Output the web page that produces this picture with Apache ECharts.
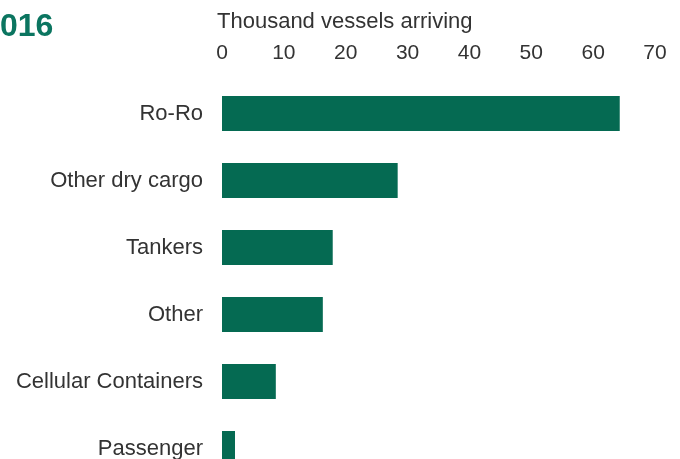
<!DOCTYPE html>
<html>
<head>
<meta charset="utf-8">
<script src="https://cdn.jsdelivr.net/npm/echarts@6/dist/echarts.min.js"></script>
<style>
  html, body { margin: 0; padding: 0; background: #fff; }
  #chart { width: 680px; height: 459px; }
</style>
</head>
<body>
<div id="chart"></div>
<script>
// 船舶类型及到港数量（千艘）
const categories = ["Ro-Ro", "Other dry cargo", "Tankers", "Other", "Cellular Containers", "Passenger"];
const vessels = [64.3, 28.4, 17.9, 16.3, 8.7, 2.1];
const yearLabel = "016";
const axisName = "Thousand vessels arriving";

const font = "'Liberation Sans', Arial, sans-serif";
const chart = echarts.init(document.getElementById("chart"), null, { renderer: "canvas" });

chart.setOption({
  animation: false,
  title: [
    {
      text: yearLabel,
      left: -5,
      top: 6,
      textStyle: { color: "#0b7560", fontSize: 32, fontWeight: "bold", fontFamily: font }
    },
    {
      text: axisName,
      left: 212,
      top: 6,
      textStyle: { color: "#333", fontSize: 22, fontWeight: "normal", fontFamily: font }
    }
  ],
  grid: {
    left: 222,
    right: 25,
    top: 80,
    height: 402,
    outerBoundsMode: "none",
    containLabel: false
  },
  xAxis: {
    type: "value",
    position: "top",
    min: 0,
    max: 70,
    interval: 10,
    axisLine: { show: false },
    axisTick: { show: false },
    splitLine: { show: false },
    axisLabel: { color: "#333", fontSize: 21, fontFamily: font, margin: 16 }
  },
  yAxis: {
    type: "category",
    inverse: true,
    data: categories,
    axisLine: { show: false },
    axisTick: { show: false },
    axisLabel: { color: "#333", fontSize: 22, fontFamily: font, margin: 19 }
  },
  series: [
    {
      type: "bar",
      data: vessels,
      barWidth: 35,
      itemStyle: { color: "#056a52" }
    }
  ]
});
</script>
</body>
</html>
